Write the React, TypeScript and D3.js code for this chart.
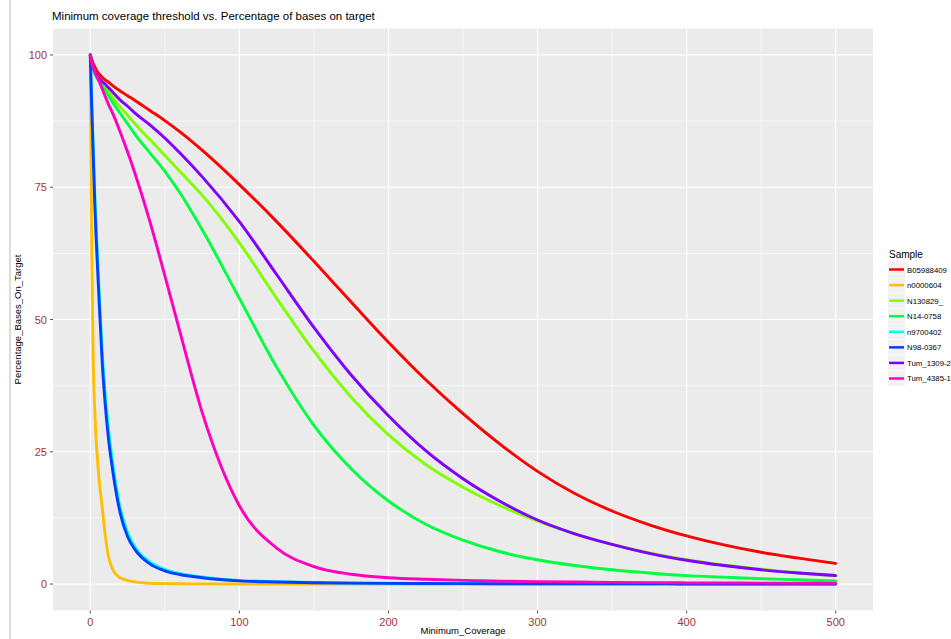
import React from "react";
import * as d3 from "d3";

const coverage = [0,1,2,3,4,5,6,7,8,10,12,15,20,25,30,40,50,60,75,100,125,150,175,200,225,250,275,300,325,350,375,400,425,450,475,500];

const samples = ["B05988409","n0000604","N130829_","N14-0758","n9700402","N98-0367","Tum_1309-2","Tum_4385-1"];
const sampleColors = ["#FF0000","#FFBF00","#80FF00","#00FF40","#00FFFF","#0040FF","#8000FF","#FF00BF"];

const sB05988409 = [100,99.2,98.4,97.8,97.2,96.7,96.4,96.1,95.8,95.3,94.9,94.2,93.2,92.3,91.4,89.5,87.6,85.5,82,75.5,68.5,61,53.3,45.7,38.6,32.2,26.4,21.3,17.1,13.8,11.2,9.1,7.4,6,4.9,3.9];
const sN0000604 = [100,62,42,33,27,23,19.5,17,14.5,9.3,5.5,2.8,1.2,0.7,0.4,0.15,0.08,0.05,0.03,0.02,0.01,0.01,0,0,0,0,0,0,0,0,0,0,0,0,0,0];
const sN130829 = [100,98.6,97.5,96.8,96.2,95.7,95.3,95,94.6,93.9,93.2,92,90.2,88.6,87,84,81,78,73.5,64.5,54,44,35.3,28.2,22.6,18.3,14.8,11.9,9.5,7.5,5.9,4.6,3.6,2.8,2.1,1.6];
const sN140758 = [100,98.4,97.2,96.5,95.9,95.4,95,94.6,94.2,93.3,92.4,91,89,87,85,81.5,78,74,67,54,41,30,21.8,15.7,11.3,8.3,6.1,4.6,3.5,2.7,2.1,1.6,1.3,1,0.8,0.6];
const sN9700402 = [100,91,82.5,74,67,61,55,49.5,44,36,30,23,14.5,9.8,7,4.2,2.8,2,1.35,0.7,0.45,0.3,0.2,0.14,0.11,0.09,0.07,0.06,0.05,0.04,0.03,0.03,0.02,0.02,0.02,0.01];
const sN980367 = [100,90,81,72,65,59,53,47.5,42,34,28,21.5,13.5,9,6.5,3.8,2.5,1.8,1.2,0.6,0.4,0.25,0.18,0.12,0.1,0.08,0.06,0.05,0.04,0.03,0.03,0.02,0.02,0.02,0.01,0.01];
const sTum13092 = [100,98.8,97.8,97,96.4,95.9,95.6,95.3,95,94.5,93.9,93,91.5,90.3,89,86.8,84.3,81.5,77,68.5,58.5,48.5,39.5,31.8,25.2,19.9,15.6,12.1,9.5,7.5,5.8,4.5,3.5,2.7,2.1,1.6];
const sTum43851 = [100,98.5,97.6,96.9,96.2,95.6,95,94.3,93.6,92.2,90.8,89,85.5,81.7,77.6,68.5,58.3,47.8,32.5,14.8,6.8,3.3,1.85,1.2,0.9,0.7,0.55,0.45,0.38,0.32,0.27,0.23,0.2,0.17,0.15,0.13];

const seriesValues = [sB05988409, sN0000604, sN130829, sN140758, sN9700402, sN980367, sTum13092, sTum43851];

const xTicks = [0,100,200,300,400,500];
const xMinor = [50,150,250,350,450];
const yTicks = [0,25,50,75,100];
const yMinor = [12.5,37.5,62.5,87.5];

const titleText = "Minimum coverage threshold vs. Percentage of bases on target";
const xTitle = "Minimum_Coverage";
const yTitle = "Percentage_Bases_On_Target";
const legendTitle = "Sample";

export default function App() {
  const W = 951, H = 639;
  const pL = 53, pR = 873, pT = 28.5, pB = 610.5;
  const x = d3.scaleLinear().domain([-25, 525]).range([pL, pR]);
  const y = d3.scaleLinear().domain([-5, 105]).range([pB, pT]);
  const line = d3.line<number>()
    .x((_, i) => x(coverage[i]))
    .y((d) => y(d))
    .curve(d3.curveMonotoneX);
  const font = "Liberation Sans, Arial, sans-serif";
  const tickColor = "#A8332F";
  const legX = 889, legY0 = 269.5, legStep = 15.57;

  return (
    <svg width={W} height={H} style={{ position: "absolute", left: 0, top: 0, background: "#fff" }} fontFamily={font}>
      <rect x={0} y={0} width={W} height={H} fill="#fff" />
      <line x1={10} x2={10} y1={0} y2={H} stroke="#dcdcdc" strokeWidth={2} />
      <text x={52} y={20} fontSize={11.5} fill="#000">{titleText}</text>
      <rect x={pL} y={pT} width={pR - pL} height={pB - pT} fill="#EBEBEB" />
      {xMinor.map((v) => (
        <line key={"xm" + v} x1={x(v)} x2={x(v)} y1={pT} y2={pB} stroke="#fff" strokeWidth={0.6} />
      ))}
      {yMinor.map((v) => (
        <line key={"ym" + v} x1={pL} x2={pR} y1={y(v)} y2={y(v)} stroke="#fff" strokeWidth={0.6} />
      ))}
      {xTicks.map((v) => (
        <line key={"xg" + v} x1={x(v)} x2={x(v)} y1={pT} y2={pB} stroke="#fff" strokeWidth={1.2} />
      ))}
      {yTicks.map((v) => (
        <line key={"yg" + v} x1={pL} x2={pR} y1={y(v)} y2={y(v)} stroke="#fff" strokeWidth={1.2} />
      ))}
      {seriesValues.map((vals, i) => (
        <path key={samples[i]} d={line(vals) || ""} fill="none" stroke={sampleColors[i]} strokeWidth={2.9} strokeLinejoin="round" strokeLinecap="round" />
      ))}
      {xTicks.map((v) => (
        <g key={"xt" + v}>
          <line x1={x(v)} x2={x(v)} y1={pB} y2={pB + 3} stroke="#555" strokeWidth={1} />
          <text x={x(v)} y={pB + 15} fontSize={11} fill={tickColor} textAnchor="middle">{v}</text>
        </g>
      ))}
      {yTicks.map((v) => (
        <g key={"yt" + v}>
          <line x1={pL - 3} x2={pL} y1={y(v)} y2={y(v)} stroke="#555" strokeWidth={1} />
          <text x={pL - 6} y={y(v) + 4} fontSize={11} fill={tickColor} textAnchor="end">{v}</text>
        </g>
      ))}
      <text x={(pL + pR) / 2} y={634} fontSize={9.5} fill="#000" textAnchor="middle">{xTitle}</text>
      <text transform={`translate(21,${(pT + pB) / 2}) rotate(-90)`} fontSize={9.5} fill="#000" textAnchor="middle">{yTitle}</text>
      <text x={legX} y={258} fontSize={10} fill="#000">{legendTitle}</text>
      {samples.map((s, i) => (
        <g key={"lg" + s}>
          <rect x={legX - 1} y={legY0 + i * legStep - 7.5} width={17} height={15} fill="#F2F2F2" />
          <line x1={legX} x2={legX + 15} y1={legY0 + i * legStep} y2={legY0 + i * legStep} stroke={sampleColors[i]} strokeWidth={2.5} />
          <text x={legX + 18} y={legY0 + i * legStep + 3} fontSize={7.8} fill="#000">{s}</text>
        </g>
      ))}
    </svg>
  );
}
